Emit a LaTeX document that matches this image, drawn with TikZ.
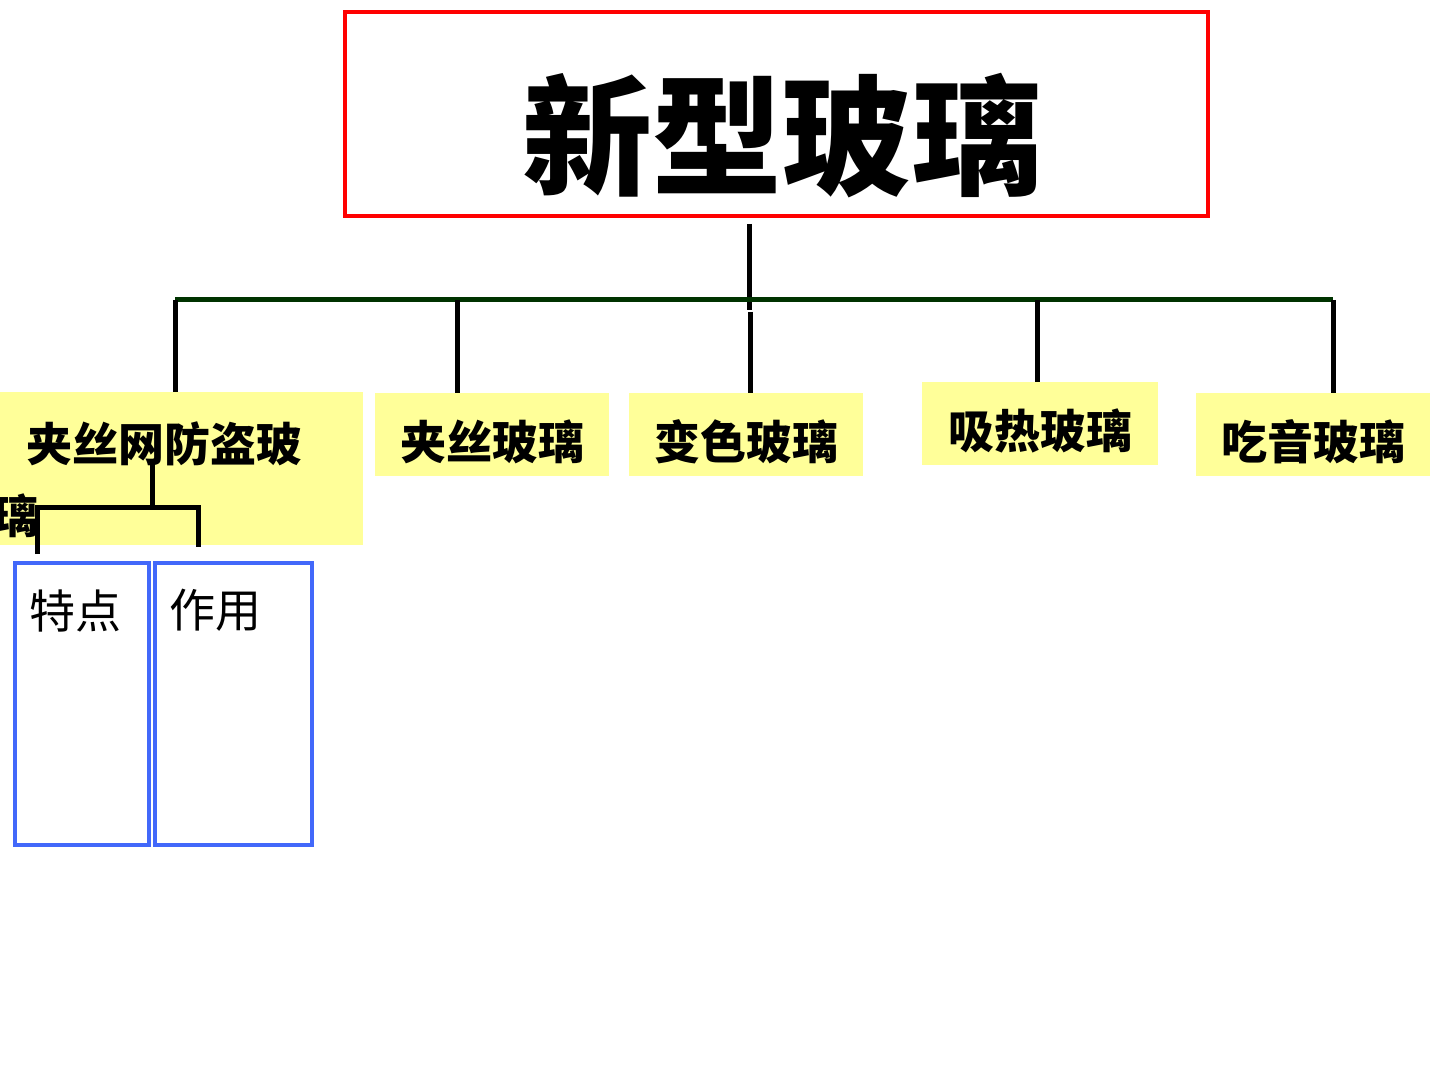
\documentclass[tikz,border=0pt]{standalone}
\usepackage{fontspec}
\usepackage{tikz}
\usetikzlibrary{positioning}
\newfontfamily\cjk{Noto Sans CJK SC}

\definecolor{boxyellow}{RGB}{255,255,153}
\definecolor{busgreen}{RGB}{0,51,0}
\definecolor{subblue}{RGB}{66,104,250}

\tikzset{
  kindbox/.style={fill=boxyellow, inner sep=0pt, text height=28pt, text depth=3pt,
    font=\cjk\bfseries\fontsize{23}{26}\selectfont},
  subbox/.style={draw=subblue, line width=2pt, inner sep=0pt, minimum height=141pt},
  subtext/.style={inner sep=0pt, font=\cjk\fontsize{23}{26}\selectfont},
  stem/.style={line width=2.5pt}
}

\begin{document}
\begin{tikzpicture}[x=0.5pt,y=-0.5pt]
\useasboundingbox (0,0) rectangle (1440,1080);

% Title box
\node [draw=red, line width=2pt, minimum width=431.5pt, minimum height=102pt,
  text height=80pt, text depth=8pt,
  font=\cjk\bfseries\fontsize{65}{70}\selectfont] (title) at (776.5,114) {\hspace{6pt}新型玻璃};

% Trunk and bus
\coordinate (joint) at (749,300);
\coordinate (busl) at (175,300);
\coordinate (busr) at (1333,300);
\draw [stem] ([yshift=-3pt]title.south -| joint) -- ([yshift=-5pt]joint);
\draw [busgreen, stem] (busl) -- (busr);

% The five kinds of glass
\node [kindbox, minimum width=181.5pt, minimum height=76.5pt] (k1) at (181.5,468.5) {};
\node [kindbox, minimum width=117pt, minimum height=41.5pt] (k2) at (492,434.5) {夹丝玻璃};
\node [kindbox, minimum width=117pt, minimum height=41.5pt] (k3) at (746,434.5) {变色玻璃};
\node [kindbox, minimum width=118pt, minimum height=41.5pt] (k4) at (1040,423.5) {吸热玻璃};
\node [kindbox, minimum width=117pt, minimum height=41.5pt] (k5) at (1313,434.5) {吃音玻璃};
\node [kindbox, fill=none] (k1a) at (164,436) {夹丝网防盗玻};
\node [kindbox, fill=none] (k1b) at (16,508) {璃};

% Drops from the bus
\foreach \n/\xd in {1/175,2/457,4/1037,5/1333} {
  \coordinate (d\n) at (\xd,300);
  \draw [stem] (d\n) -- (d\n |- k\n.north);
}
\coordinate (d3) at (750,312);
\draw [stem] (d3) -- (d3 |- k3.north);

% Features and use
\node [subbox, minimum width=67pt] (s1) at (82,704) {};
\node [subbox, minimum width=78.5pt] (s2) at (233.5,704) {};
\node [subtext, below right=14pt and 8pt of s1.north west] (s1t) {特点};
\node [subtext, below right=14pt and 8pt of s2.north west] (s2t) {作用};

% Small bracket
\coordinate (br) at (152,507);
\draw [stem] (152,460) -- (br);
\draw [stem] (s1.north -| 37,0) ++(0,-7) |- (br) -| ([yshift=7pt]s2.north -| 198,0);
\end{tikzpicture}
\end{document}
